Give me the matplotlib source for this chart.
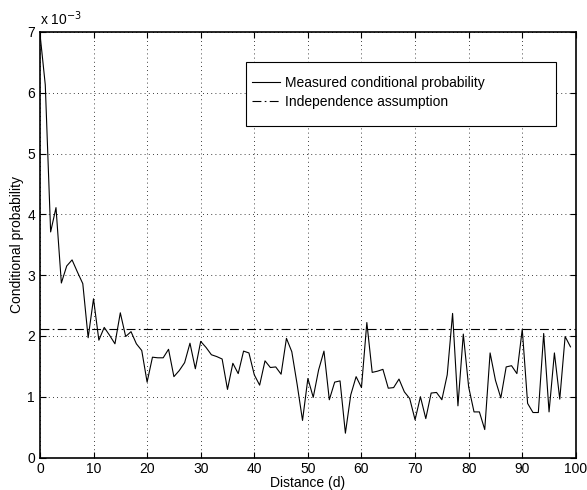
import numpy as np
import matplotlib
matplotlib.use("Agg")
import matplotlib.pyplot as plt
from matplotlib.patches import Rectangle
from matplotlib.ticker import FuncFormatter, MultipleLocator

plt.rcParams['font.family'] = ['Liberation Sans', 'DejaVu Sans']

# distance d = 0..99, conditional probability in units of 1e-3
distance = list(range(100))
cond_prob_e3 = [
    6.98, 6.13, 3.71, 4.11, 2.87, 3.15, 3.25, 3.05, 2.86, 1.97,
    2.61, 1.93, 2.14, 2.01, 1.87, 2.38, 1.99, 2.07, 1.87, 1.76,
    1.24, 1.65, 1.64, 1.64, 1.78, 1.33, 1.43, 1.56, 1.88, 1.46,
    1.91, 1.81, 1.69, 1.66, 1.62, 1.12, 1.55, 1.38, 1.75, 1.72,
    1.36, 1.19, 1.59, 1.48, 1.49, 1.37, 1.96, 1.74, 1.20, 0.61,
    1.30, 0.99, 1.44, 1.75, 0.95, 1.24, 1.26, 0.40, 1.03, 1.33,
    1.15, 2.22, 1.40, 1.42, 1.45, 1.14, 1.15, 1.29, 1.08, 0.97,
    0.62, 1.00, 0.64, 1.06, 1.07, 0.95, 1.36, 2.37, 0.85, 2.03,
    1.16, 0.75, 0.75, 0.46, 1.72, 1.27, 0.98, 1.49, 1.51, 1.38,
    2.11, 0.89, 0.74, 0.74, 2.04, 0.75, 1.72, 0.96, 1.99, 1.82,
]
independence_e3 = 2.11

cond_prob = np.array(cond_prob_e3) * 1e-3
independence = independence_e3 * 1e-3

fig = plt.figure(figsize=(5.87, 4.90), dpi=100)
ax = fig.add_axes([0.068, 0.0663, 0.913, 0.8686])

ax.plot(distance, cond_prob, color='black', lw=0.8,
        label='Measured conditional probability')
ax.plot([0, 100], [independence, independence], color='black', lw=0.8,
        ls=(0, (8, 3, 1.5, 3)), label='Independence assumption')

ax.set_xlim(0, 100)
ax.set_ylim(0, 7e-3)
ax.xaxis.set_major_locator(MultipleLocator(10))
ax.yaxis.set_major_locator(MultipleLocator(1e-3))
ax.yaxis.set_major_formatter(FuncFormatter(lambda v, p: '%d' % round(v * 1e3)))
ax.tick_params(direction='in', top=True, right=True, labelsize=10, length=4, width=0.8)
ax.grid(True, ls=(0, (1, 4)), color='black', lw=0.6)
for s in ax.spines.values():
    s.set_linewidth(1.2)

ax.text(0, 1.008, r'x 10$^{-3}$', transform=ax.transAxes, fontsize=10,
        ha='left', va='bottom')
ax.set_xlabel('Distance (d)', fontsize=10, labelpad=0)
ax.set_ylabel('Conditional probability', fontsize=10, labelpad=2)

# MATLAB-style legend box, wider than its contents
ax.add_patch(Rectangle((0.384, 0.779), 0.579, 0.150, transform=ax.transAxes,
                       facecolor='white', edgecolor='black', lw=0.8, zorder=4))
leg = ax.legend(loc='center left', bbox_to_anchor=(0.3955, 0.8585), fontsize=10,
                frameon=False, handlelength=2.0, handletextpad=0.4,
                borderpad=0, labelspacing=0.35, borderaxespad=0)
leg.set_zorder(5)

fig.savefig('out.png', dpi=100)
